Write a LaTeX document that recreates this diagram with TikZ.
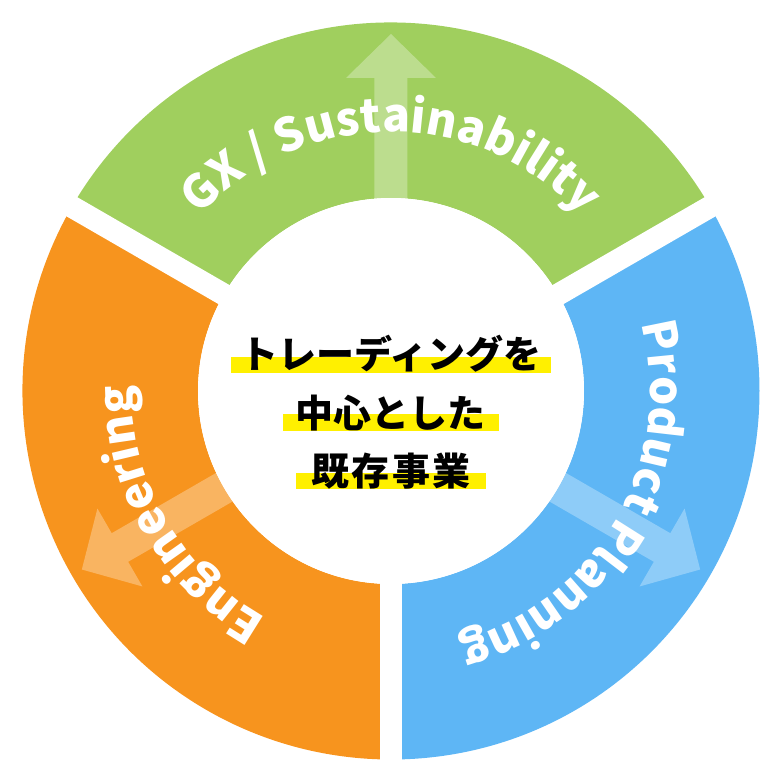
\documentclass[tikz,border=0pt]{standalone}
\usepackage{fontspec}
\usetikzlibrary{decorations.text}
\newfontfamily\jpf{Noto Sans CJK JP}
\definecolor{cg}{RGB}{160,207,94}
\definecolor{co}{RGB}{247,148,30}
\definecolor{cb}{RGB}{94,182,245}
\definecolor{hl}{RGB}{255,240,0}
\def\ringfmt{\jpf\bfseries\fontsize{46}{52}\selectfont\color{white}}
\begin{document}
\begin{tikzpicture}[x=1pt,y=1pt,
  gap/.style={white,line width=22pt},
  arrowshape/.style={white,opacity=0.3},
  hlbar/.style={fill=hl},
  center text/.style={font=\jpf\bfseries\fontsize{38}{44}\selectfont,anchor=base,inner sep=0pt,text=black},
  ringtext/.style={decorate,decoration={text along path,text align=center,text={|\ringfmt|#1}}}]
\useasboundingbox (-391,-391) rectangle (391,391);
\def\Ro{368.5}
\def\Ri{193}
% sectors
\fill[cg] (30:\Ro) arc[start angle=30,end angle=150,radius=\Ro] -- (150:\Ri) arc[start angle=150,end angle=30,radius=\Ri] -- cycle;
\fill[cb] (-90:\Ro) arc[start angle=-90,end angle=30,radius=\Ro] -- (30:\Ri) arc[start angle=30,end angle=-90,radius=\Ri] -- cycle;
\fill[co] (150:\Ro) arc[start angle=150,end angle=270,radius=\Ro] -- (270:\Ri) arc[start angle=270,end angle=150,radius=\Ri] -- cycle;
% arrows
\foreach \a in {90,-30,210}
  \fill[arrowshape,rotate=\a] (120,-16.5) -- (313,-16.5) -- (313,-45) -- (357,0) -- (313,45) -- (313,16.5) -- (120,16.5) -- cycle;
% gaps
\foreach \a in {30,150,270}
  \draw[gap] (0,0) -- (\a:400);
\fill[white] (0,0) circle (\Ri);
% ring texts
\path[ringtext={GX / Sustainability}] (150:259) arc[start angle=150,end angle=30,radius=259];
\path[ringtext={Product Planning}] (30:259) arc[start angle=30,end angle=-90,radius=259];
\path[ringtext={Engineering}] (270:259) arc[start angle=270,end angle=150,radius=259];
% center
\fill[hlbar] (-160,18) rectangle (160,34);
\fill[hlbar] (-108,-40) rectangle (108,-23);
\fill[hlbar] (-94.5,-98) rectangle (94.5,-82);
\node[center text] (l1) at (0,23) {トレーディングを};
\node[center text] (l2) at (0,-36) {中心とした};
\node[center text] (l3) at (0,-94) {\addfontfeature{LetterSpace=7}既存事業};
\end{tikzpicture}
\end{document}
